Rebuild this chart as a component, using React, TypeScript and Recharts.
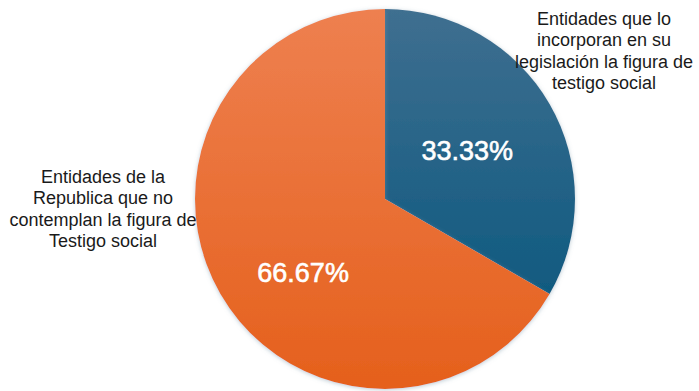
import { Cell, Pie, PieChart } from "recharts";

const categories = [
  "Entidades que lo incorporan en su legislación la figura de testigo social",
  "Entidades de la Republica que no contemplan la figura de Testigo social",
];
const shares = [33.33, 66.67];
const labelLines = [
  ["Entidades que lo", "incorporan en su", "legislación la figura de", "testigo social"],
  ["Entidades de la", "Republica que no", "contemplan la figura de", "Testigo social"],
];

const data = categories.map((name, i) => ({ name, value: shares[i] }));
const fills = ["url(#gradBlue)", "url(#gradOrange)"];
// where the % label sits inside each slice
const innerPos = [
  { r: 0.5, shift: 0 },
  { r: 0.58, shift: 12 },
];
const outerPos = [
  { x: 604, y: 25 },
  { x: 103, y: 183 },
];

const RADIAN = Math.PI / 180;
const FONT = "Liberation Sans, Arial, sans-serif";

const renderLabel = (props: any) => {
  const { cx, cy, midAngle, outerRadius, index, value } = props;
  const p = innerPos[index];
  const a = (midAngle + p.shift) * RADIAN;
  const x = cx + outerRadius * p.r * Math.cos(a);
  const y = cy - outerRadius * p.r * Math.sin(a);
  return (
    <g>
      <text
        x={x}
        y={y}
        fill="#ffffff"
        stroke="#ffffff"
        strokeWidth={0.6}
        textAnchor="middle"
        dominantBaseline="central"
        fontSize={27}
        fontFamily={FONT}
      >
        {value.toFixed(2)}%
      </text>
      <text
        x={outerPos[index].x}
        y={outerPos[index].y}
        fill="#1a1a1a"
        textAnchor="middle"
        fontSize={18}
        fontFamily={FONT}
      >
        {labelLines[index].map((line, k) => (
          <tspan key={k} x={outerPos[index].x} dy={k === 0 ? 0 : 21.4}>
            {line}
          </tspan>
        ))}
      </text>
    </g>
  );
};

export default function App() {
  return (
    <div style={{ position: "absolute", left: 0, top: 0, background: "#fff" }}>
      <PieChart width={699} height={391}>
        <defs>
          <linearGradient id="gradBlue" x1="0" y1="0" x2="0" y2="1">
            <stop offset="0%" stopColor="#3f6f90" />
            <stop offset="100%" stopColor="#105a80" />
          </linearGradient>
          <linearGradient id="gradOrange" x1="0" y1="0" x2="0" y2="1">
            <stop offset="0%" stopColor="#ee8050" />
            <stop offset="100%" stopColor="#e5601c" />
          </linearGradient>
          <filter id="pieShadow" x="-10%" y="-10%" width="120%" height="120%">
            <feDropShadow dx="0" dy="1" stdDeviation="2" floodColor="#7a98aa" floodOpacity="0.5" />
          </filter>
        </defs>
        <Pie
          data={data}
          dataKey="value"
          nameKey="name"
          cx={380}
          cy={194}
          outerRadius={190}
          startAngle={90}
          endAngle={-270}
          stroke="none"
          label={renderLabel}
          labelLine={false}
          isAnimationActive={false}
          style={{ filter: "url(#pieShadow)" }}
        >
          {data.map((d, i) => (
            <Cell key={d.name} fill={fills[i]} />
          ))}
        </Pie>
      </PieChart>
    </div>
  );
}
